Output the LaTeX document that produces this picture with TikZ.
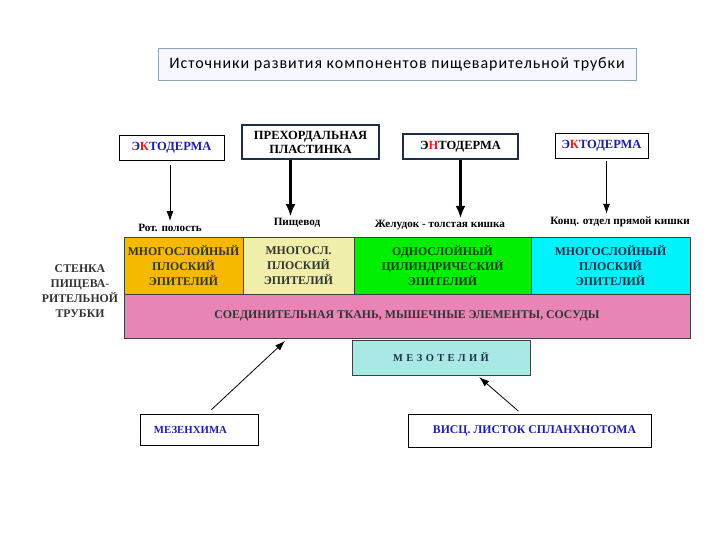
\documentclass[tikz,border=0pt]{standalone}
\usepackage{fontspec}
\usetikzlibrary{arrows.meta}
\setmainfont{Liberation Serif}
\newfontfamily\titlefont{Carlito}

\definecolor{ochre}{HTML}{F7B800}
\definecolor{paleyellow}{HTML}{EFEFAA}
\definecolor{leafgreen}{HTML}{00EE00}
\definecolor{aqua}{HTML}{00F2FA}
\definecolor{rose}{HTML}{E985B6}
\definecolor{mint}{HTML}{A9E9E5}
\definecolor{navy}{HTML}{1E2E48}
\definecolor{ektblue}{HTML}{1E1EA8}
\definecolor{ektred}{HTML}{E01E1E}
\definecolor{slate}{HTML}{8FA3B8}

\begin{document}
\begin{tikzpicture}[x=1pt,y=-1pt,
    src/.style={draw=black,fill=white,inner sep=0pt,align=center,
      font=\bfseries\fontsize{12.5}{14}\selectfont},
    srcbold/.style={src,draw=navy,line width=2.2pt},
    layer/.style={draw=black!75,inner sep=0pt,minimum height=57pt,align=center,
      font=\bfseries\fontsize{11.8}{15}\selectfont},
    organ/.style={inner sep=0pt,font=\bfseries\fontsize{11.2}{12}\selectfont},
    thinarrow/.style={-{Latex[length=10pt,width=7pt]},line width=0.8pt},
    thickarrow/.style={-{Latex[length=12pt,width=10pt]},line width=2.2pt}]
  \useasboundingbox (0,0) rectangle (720,540);

  \node[draw=slate,fill=blue!3,minimum width=478pt,minimum height=32pt,inner sep=0pt,
    font=\titlefont\fontsize{16}{18}\selectfont\addfontfeature{LetterSpace=6}] (title) at (397,64)
    {Источники развития компонентов пищеварительной трубки};

  % sources
  \node[src,minimum width=105pt,minimum height=25pt] (ekto1) at (171.5,147.5)
    {\textcolor{ektblue}{Э}\textcolor{ektred}{К}\textcolor{ektblue}{ТОДЕРМА}};
  \node[srcbold,minimum width=137pt,minimum height=34pt] (pre) at (310.5,142)
    {ПРЕХОРДАЛЬНАЯ\\ПЛАСТИНКА};
  \node[srcbold,minimum width=115pt,minimum height=25pt] (ento) at (460.5,146.5)
    {Э\textcolor{ektred}{Н}ТОДЕРМА};
  \node[src,minimum width=93pt,minimum height=25pt] (ekto2) at (601.5,145.5)
    {\textcolor{ektblue}{Э}\textcolor{ektred}{К}\textcolor{ektblue}{ТОДЕРМА}};

  \node[organ] (rot) at (170,228) {Рот. полость};
  \node[organ] (pish) at (297,223) {Пищевод};
  \node[organ] (zhel) at (440,225) {Желудок - толстая кишка};
  \node[organ] (konc) at (620,222) {Конц. отдел прямой кишки};

  \draw[thinarrow,shorten <=5pt,shorten >=3pt] ([xshift=-1.5pt]ekto1.south) -- ([xshift=-1.5pt]ekto1.south |- rot.north);
  \draw[thickarrow,shorten >=2pt] ([xshift=-20pt]pre.south) -- ([xshift=-20pt]pre.south |- pish.north);
  \draw[thickarrow,shorten >=2pt] (ento.south) -- (ento.south |- zhel.north);
  \draw[thinarrow,shorten <=3pt,shorten >=3pt] ([xshift=5pt]ekto2.south) -- ([xshift=5pt]ekto2.south |- konc.north);

  % wall of the tube
  \node[layer,fill=ochre,minimum width=119pt,text=black!80] (l1) at (183.5,265.5)
    {МНОГОСЛОЙНЫЙ\\ПЛОСКИЙ\\ЭПИТЕЛИЙ};
  \node[layer,fill=paleyellow,minimum width=111pt,text=black!80] (l2) at (298.5,265.5)
    {МНОГОСЛ.\\ПЛОСКИЙ\\ЭПИТЕЛИЙ};
  \node[layer,fill=leafgreen,minimum width=177pt,text=green!25!black] (l3) at (442.5,265.5)
    {ОДНОСЛОЙНЫЙ\\ЦИЛИНДРИЧЕСКИЙ\\ЭПИТЕЛИЙ};
  \node[layer,fill=aqua,minimum width=159pt,text=navy] (l4) at (610.5,265.5)
    {МНОГОСЛОЙНЫЙ\\ПЛОСКИЙ\\ЭПИТЕЛИЙ};
  \node[layer,fill=rose,minimum width=566pt,minimum height=44pt,text=black!80] (tissue) at (407,316)
    {СОЕДИНИТЕЛЬНАЯ ТКАНЬ, МЫШЕЧНЫЕ ЭЛЕМЕНТЫ, СОСУДЫ};
  \node[draw=black!75,fill=mint,minimum width=178pt,minimum height=35pt,inner sep=0pt,
    text=navy,font=\bfseries\fontsize{10.5}{12}\selectfont\addfontfeature{LetterSpace=32}]
    (mezo) at (441,357.5) {МЕЗОТЕЛИЙ};

  \node[align=center,font=\bfseries\fontsize{11.8}{15}\selectfont,text=black!80]
    (wall) at (80,291) {СТЕНКА\\ПИЩЕВА-\\РИТЕЛЬНОЙ\\ТРУБКИ};

  % mesodermal sources
  \node[draw=black,minimum width=118pt,minimum height=31pt,inner sep=0pt,text=ektblue,
    font=\bfseries\fontsize{10.8}{12}\selectfont] (mezen) at (199,429.5) {\hspace*{-17pt}МЕЗЕНХИМА};
  \node[draw=black,minimum width=243pt,minimum height=33pt,inner sep=0pt,text=ektblue,
    font=\bfseries\fontsize{11.8}{12}\selectfont] (visc) at (529.5,430.5) {\hspace*{10pt}ВИСЦ. ЛИСТОК СПЛАНХНОТОМА};

  \coordinate (tip) at (285,341);
  \draw[thinarrow,shorten <=6pt] ([xshift=8pt]mezen.north) -- (tip);
  \draw[thinarrow,shorten <=4pt,shorten >=3pt] ([xshift=-8pt]visc.north) -- ([xshift=36pt]mezo.south);
\end{tikzpicture}
\end{document}
